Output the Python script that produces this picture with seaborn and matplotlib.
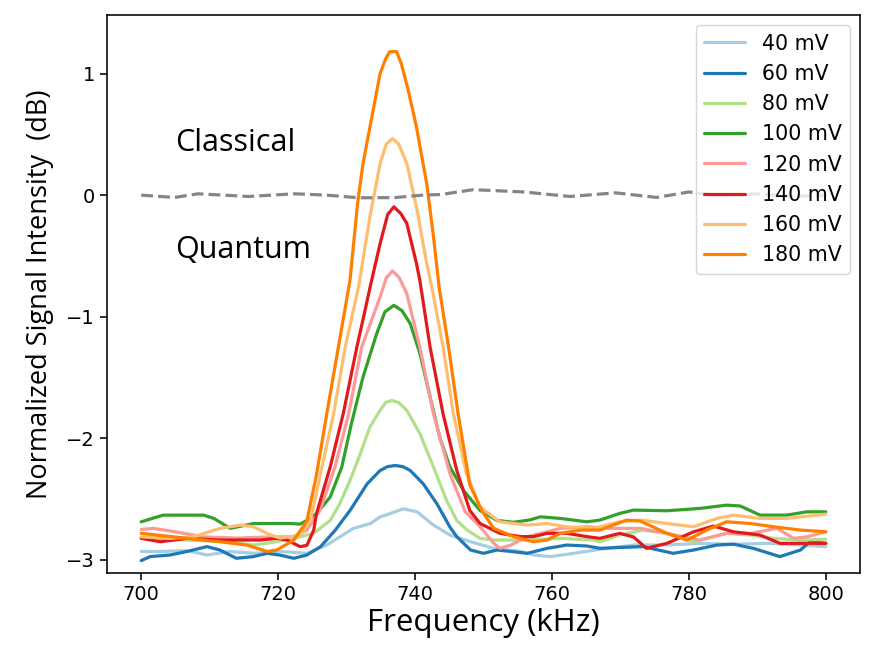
import numpy as np
import pandas as pd
import matplotlib
matplotlib.use("Agg")
import matplotlib.pyplot as plt
import seaborn as sns

# ---------------- data ----------------
labels = ["40 mV", "60 mV", "80 mV", "100 mV", "120 mV", "140 mV", "160 mV", "180 mV"]

f40 = [700, 702.8, 706.7, 709.6, 713, 716.4, 720.3, 724.2, 727.1, 731, 733.5, 734.9, 736.3, 738.3,
       740.3, 742.7, 745.1, 748.1, 751.5, 755.4, 757.3, 759.8, 763.2, 767, 771.9, 776.8, 781.6,
       786.5, 791.4, 796.3, 800]
v40 = [-2.93, -2.93, -2.923, -2.959, -2.93, -2.945, -2.93, -2.945, -2.877, -2.74, -2.70, -2.645,
       -2.62, -2.579, -2.604, -2.713, -2.795, -2.85, -2.904, -2.93, -2.959, -2.972, -2.945, -2.912,
       -2.877, -2.877, -2.863, -2.87, -2.863, -2.877, -2.89]

f60 = [700, 701.3, 704.2, 706.7, 709.6, 711.5, 713.9, 716.4, 718.4, 720.3, 722.3, 724.2, 726.2,
       728.3, 730.5, 733, 734.9, 736.0, 737.1, 738.2, 739.3, 741.2, 743.2, 745.1, 746.1, 748.1, 750,
       752, 754, 756.4, 759.3, 762.2, 765.1, 767, 769.9, 773.3, 777.7, 780.7, 784.1, 786.5, 789.4,
       793.3, 796.3, 797.7, 800]
v60 = [-3.005, -2.972, -2.959, -2.93, -2.89, -2.918, -2.986, -2.972, -2.945, -2.96, -2.986, -2.959,
       -2.89, -2.758, -2.593, -2.374, -2.264, -2.232, -2.223, -2.232, -2.264, -2.374, -2.538, -2.73,
       -2.808, -2.918, -2.945, -2.918, -2.93, -2.945, -2.904, -2.877, -2.885, -2.904, -2.897, -2.89,
       -2.945, -2.918, -2.877, -2.87, -2.904, -2.972, -2.918, -2.85, -2.863]

f80 = [700, 706.7, 712.5, 716.4, 718.9, 722.3, 725.2, 727.6, 729, 730.5, 732, 733.4, 734.9, 735.7,
       736.6, 737.6, 738.8, 740.7, 742.7, 744.6, 746.1, 747.6, 749.5, 751.5, 756.4, 761.2, 766.1,
       767, 769.9, 773.3, 776.8, 780.7, 785.5, 789, 792.4, 796.3, 800]
v80 = [-2.822, -2.836, -2.85, -2.877, -2.858, -2.822, -2.78, -2.675, -2.538, -2.346, -2.127, -1.907,
       -1.77, -1.705, -1.688, -1.705, -1.77, -1.96, -2.236, -2.51, -2.675, -2.754, -2.822, -2.836,
       -2.836, -2.822, -2.836, -2.85, -2.795, -2.754, -2.781, -2.85, -2.781, -2.795, -2.822, -2.836,
       -2.83]

f100 = [700, 703.2, 709.1, 710.6, 713, 716.4, 721.8, 723.2, 724.2, 725.6, 727.6, 729.3, 730.7, 732.4,
        734.4, 735.6, 736.9, 738.1, 739.3, 740.7, 742.2, 743.6, 745.1, 747.1, 749.5, 752, 754.4,
        756.8, 758.3, 761.2, 765.1, 767, 769.9, 771.9, 776.8, 781.6, 785.5, 787.5, 790.4, 794.3,
        797.2, 800]
v100 = [-2.686, -2.631, -2.631, -2.658, -2.74, -2.70, -2.70, -2.705, -2.675, -2.62, -2.483, -2.236,
        -1.88, -1.496, -1.139, -0.96, -0.906, -0.95, -1.057, -1.30, -1.66, -1.99, -2.236, -2.43,
        -2.593, -2.675, -2.69, -2.67, -2.645, -2.658, -2.686, -2.672, -2.617, -2.59, -2.595, -2.576,
        -2.549, -2.556, -2.631, -2.631, -2.604, -2.604]

f120 = [700, 701.8, 705.2, 709.1, 714, 718.9, 722.3, 724.2, 726.1, 728.3, 730.3, 732.2, 734.9, 735.8,
        736.7, 737.7, 738.8, 740.7, 742.7, 745.1, 747.3, 749.5, 751.5, 752.4, 754, 756.4, 759.3,
        761.2, 765.1, 768.5, 772.9, 776.8, 781.6, 785.5, 789, 792.9, 795.3, 797.2, 800]
v120 = [-2.748, -2.74, -2.77, -2.81, -2.82, -2.81, -2.81, -2.754, -2.593, -2.236, -1.80, -1.25,
        -0.837, -0.68, -0.623, -0.68, -0.81, -1.25, -1.80, -2.29, -2.60, -2.727, -2.863, -2.904,
        -2.877, -2.808, -2.768, -2.74, -2.727, -2.74, -2.74, -2.781, -2.836, -2.781, -2.781, -2.74,
        -2.822, -2.81, -2.768]

f140 = [700, 702.8, 706.7, 711.5, 717.4, 719.8, 721.3, 723.2, 724.2, 725.2, 725.6, 727.6, 729.5,
        731.5, 732.7, 733.5, 734.9, 736.0, 736.9, 737.9, 738.8, 740.2, 740.7, 742.2, 744.1, 746.1,
        748, 749.5, 752.4, 755.4, 757.3, 759.3, 762.2, 765.1, 767, 769.9, 771.9, 773.8, 776.8, 780.7,
        783.6, 786.5, 790.4, 793.3, 797.2, 800]
v140 = [-2.822, -2.85, -2.822, -2.836, -2.836, -2.822, -2.836, -2.89, -2.88, -2.754, -2.62, -2.236,
        -1.80, -1.25, -0.946, -0.74, -0.398, -0.16, -0.096, -0.15, -0.233, -0.56, -0.70, -1.25, -1.80,
        -2.264, -2.593, -2.70, -2.781, -2.808, -2.808, -2.781, -2.781, -2.808, -2.822, -2.781, -2.81,
        -2.904, -2.863, -2.768, -2.721, -2.768, -2.795, -2.863, -2.863, -2.863]

f160 = [700, 704.2, 707.6, 711.5, 714.5, 716.4, 718.9, 720.3, 723.2, 724.7, 726.4, 728.1, 729.8,
        731.8, 733.4, 734.9, 735.8, 736.7, 737.6, 738.8, 740.2, 741.7, 742.6, 744.1, 745.6, 747.5,
        749.5, 752.4, 756.4, 759.3, 762.2, 766.1, 769.9, 772.9, 776.8, 780.7, 784.1, 786.5, 790.4,
        794.3, 797.2, 800]
v160 = [-2.81, -2.822, -2.81, -2.74, -2.713, -2.727, -2.795, -2.82, -2.795, -2.68, -2.236, -1.80,
        -1.25, -0.74, -0.178, 0.26, 0.42, 0.466, 0.42, 0.26, -0.096, -0.56, -0.80, -1.25, -1.80,
        -2.29, -2.565, -2.686, -2.713, -2.70, -2.727, -2.74, -2.686, -2.672, -2.70, -2.727, -2.658,
        -2.631, -2.658, -2.658, -2.64, -2.623]

f180 = [700, 702.3, 706.7, 711.5, 715.4, 718.4, 719.8, 722.3, 724.2, 725.6, 727.1, 728.8, 730.5,
        731.6, 732.4, 733.7, 734.9, 735.7, 736.3, 737.3, 738.0, 739.0, 740.2, 741.7, 742.7, 743.5,
        744.9, 746.3, 748, 749.8, 751.5, 754.4, 757.3, 759.3, 761.2, 764.2, 767, 770.9, 772.9,
        776.8, 779.7, 782.6, 785.5, 789, 792.4, 796.3, 800]
v180 = [-2.78, -2.795, -2.822, -2.85, -2.877, -2.93, -2.918, -2.836, -2.68, -2.3, -1.80, -1.25, -0.70,
        -0.07, 0.26, 0.645, 1.00, 1.12, 1.18, 1.18, 1.08, 0.864, 0.562, 0.096, -0.343, -0.75, -1.25,
        -1.80, -2.38, -2.60, -2.74, -2.808, -2.85, -2.836, -2.781, -2.754, -2.754, -2.672, -2.68,
        -2.781, -2.836, -2.754, -2.686, -2.70, -2.727, -2.754, -2.768]

f_ref = [700, 704.9, 708.3, 715.7, 722.4, 727.1, 731.8, 737.1, 741.1, 743.8, 748.5, 755.9, 762.6,
         769.3, 775.3, 780, 784, 790, 795, 800]
v_ref = [0.0, -0.019, 0.011, -0.011, 0.011, 0.0, -0.022, -0.02, 0.0, 0.005, 0.045, 0.026, -0.011,
         0.019, -0.019, 0.026, 0.0, 0.01, -0.01, 0.0]

freqs = [f40, f60, f80, f100, f120, f140, f160, f180]
vals = [v40, v60, v80, v100, v120, v140, v160, v180]

rows = []
for lab, fs, vs in zip(labels, freqs, vals):
    for f, v in zip(fs, vs):
        rows.append({"Frequency": f, "Signal": v, "Voltage": lab})
df = pd.DataFrame(rows)
df_ref = pd.DataFrame({"Frequency": f_ref, "Signal": v_ref})

# ---------------- style ----------------
sns.set_style("ticks")
plt.rcParams.update({
    "font.family": ["DejaVu Sans"],
    "font.size": 14,
    "text.color": "black",
    "axes.labelcolor": "black",
    "axes.linewidth": 1.15,
    "axes.edgecolor": "black",
    "xtick.major.width": 1.15,
    "ytick.major.width": 1.15,
    "xtick.major.size": 5,
    "ytick.major.size": 5,
    "xtick.color": "black",
    "ytick.color": "black",
    "xtick.labelsize": 14,
    "ytick.labelsize": 14,
    "lines.solid_capstyle": "round",
    "lines.solid_joinstyle": "round",
})

palette = sns.color_palette("Paired", 8)

fig = plt.figure(figsize=(8.74, 6.53), dpi=100)
ax = fig.add_axes([0.1224, 0.1225, 0.8616, 0.8545])

sns.lineplot(data=df, x="Frequency", y="Signal", hue="Voltage", hue_order=labels,
             palette=palette, linewidth=2.3, estimator=None, sort=False, ax=ax)
sns.lineplot(data=df_ref, x="Frequency", y="Signal", color="#858585", linestyle="--",
             linewidth=2.3, estimator=None, sort=False, legend=False, ax=ax)

ax.set_xlim(695, 805)
ax.set_ylim(-3.107, 1.481)
ax.set_xticks([700, 720, 740, 760, 780, 800])
ax.set_yticks([-3, -2, -1, 0, 1])

label_font = ["Open Sans", "DejaVu Sans"]
ax.set_xlabel("Frequency (kHz)", fontsize=22.5, family=label_font, labelpad=3, color="black")
ax.set_ylabel("Normalized Signal Intensity  (dB)", fontsize=19.5, family=label_font, labelpad=9,
              color="black")

ax.text(704.9, 0.366, "Classical", fontsize=22, family=label_font, ha="left", va="baseline",
        color="black")
ax.text(704.9, -0.514, "Quantum", fontsize=22, family=label_font, ha="left", va="baseline",
        color="black")

handles, labs = ax.get_legend_handles_labels()
leg = ax.legend(handles[:8], labs[:8], loc="upper right", fontsize=14.8, frameon=True)
for t in leg.get_texts():
    t.set_color("black")

fig.savefig("out.png", dpi=100)
